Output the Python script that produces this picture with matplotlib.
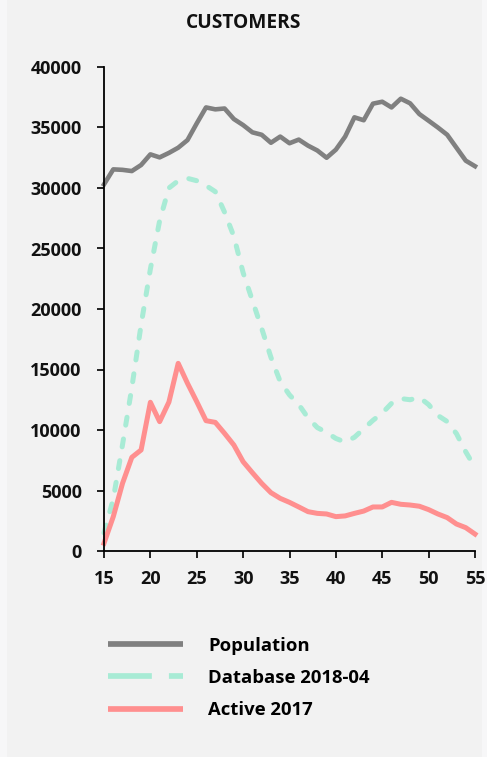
import numpy as np
import matplotlib.pyplot as plt
from matplotlib.lines import Line2D
from matplotlib.patches import Rectangle

plt.rcParams['font.family'] = ['Open Sans', 'DejaVu Sans']
plt.rcParams['font.weight'] = 'bold'

# ages
ages = list(range(15, 56))

population = [30300, 31540, 31500, 31400, 31900, 32780, 32530, 32900, 33330, 33960,
              35340, 36660, 36500, 36570, 35700, 35200, 34600, 34400, 33740, 34250,
              33700, 34000, 33500, 33100, 32500, 33170, 34250, 35840, 35600, 36970,
              37130, 36660, 37380, 37000, 36110, 35560, 35000, 34400, 33330, 32260,
              31800]

database = [1500, 4300, 8800, 13500, 18700, 23300, 27300, 30000, 30600, 30800,
            30600, 30200, 29700, 28000, 26000, 23000, 20700, 18400, 16000, 14000,
            12900, 12100, 11000, 10200, 9800, 9300, 9000, 9400, 10100, 10800,
            11400, 12200, 12600, 12500, 12700, 12100, 11200, 10700, 9700, 8200,
            6900]

active = [640, 2840, 5600, 7740, 8350, 12290, 10690, 12310, 15510, 13860,
          12340, 10770, 10630, 9720, 8760, 7380, 6470, 5590, 4820, 4350,
          4020, 3640, 3250, 3110, 3060, 2840, 2900, 3110, 3300, 3640,
          3640, 4020, 3860, 3800, 3700, 3420, 3060, 2760, 2230, 1930,
          1400]

labels = ['Population', 'Database 2018-04', 'Active 2017']
colors = ['#808080', '#a8ebd5', '#ff8f8f']

W, H = 487, 757
fig = plt.figure(figsize=(W / 100, H / 100), dpi=100, facecolor='#f2f2f2')
# faint strips at the panel edges
fig.patches.append(Rectangle((0, 0), 7 / W, 1, transform=fig.transFigure,
                             facecolor='#f7f7f8', edgecolor='none', zorder=-1))
fig.patches.append(Rectangle((482 / W, 0), 5 / W, 1, transform=fig.transFigure,
                             facecolor='#f7f7f8', edgecolor='none', zorder=-1))

ax = fig.add_axes([104 / W, 1 - 551 / H, (475 - 104) / W, (551 - 67) / H])
ax.set_facecolor('none')

ax.plot(ages, population, color=colors[0], lw=3.3, solid_joinstyle='round', clip_on=False)
ax.plot(ages, database, color=colors[1], lw=3.6, dashes=(1.6, 2.8),
        dash_capstyle='round', clip_on=False)
ax.plot(ages, active, color=colors[2], lw=3.6, solid_joinstyle='round', clip_on=False)

ax.set_xlim(15, 55)
ax.set_ylim(0, 40000)
ax.set_xticks(range(15, 56, 5))
ax.set_yticks(range(0, 40001, 5000))
for s in ['top', 'right']:
    ax.spines[s].set_visible(False)
for s in ['left', 'bottom']:
    ax.spines[s].set_linewidth(1.3)
ax.tick_params(axis='both', length=5, width=1.3, labelsize=13, colors='#111111')
ax.tick_params(axis='y', pad=11)
ax.tick_params(axis='x', pad=9)

fig.text(0.5, 1 - 23 / H, 'CUSTOMERS', ha='center', va='center',
         fontsize=13.8, fontweight='bold', color='#111111')

# legend proxies (legend dashes are longer than the plotted ones)
handles = [
    Line2D([], [], color=colors[0], lw=4.1, solid_capstyle='butt'),
    Line2D([], [], color=colors[1], lw=4.1, dashes=(7.7, 3.0), dash_capstyle='butt'),
    Line2D([], [], color=colors[2], lw=4.1, solid_capstyle='butt'),
]
fig.legend(handles, labels, loc='upper left', bbox_to_anchor=(102 / W, 1 - 631 / H),
           frameon=False, fontsize=13.3, handlelength=4.1, handletextpad=1.36,
           labelspacing=0.77, borderaxespad=0, borderpad=0.3)

fig.savefig('out.png', dpi=100, facecolor=fig.get_facecolor())
